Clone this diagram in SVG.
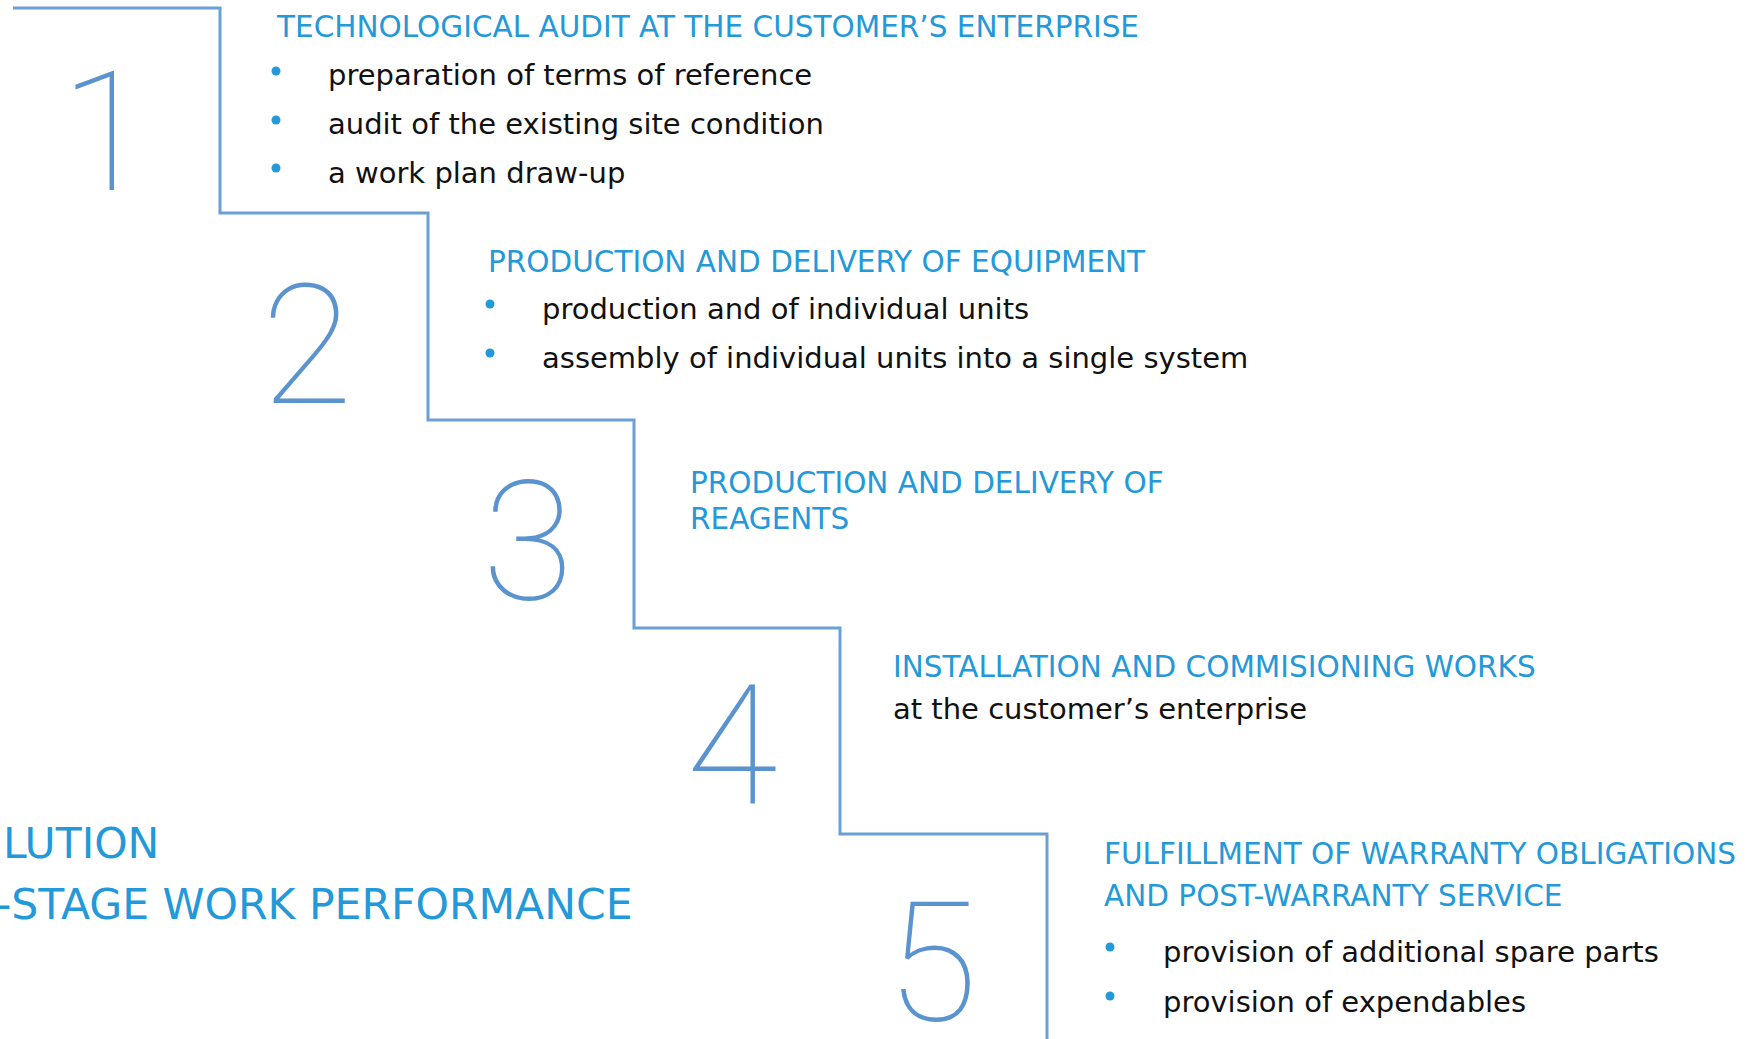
<svg xmlns="http://www.w3.org/2000/svg" width="1757" height="1039" viewBox="0 0 1757 1039">
<style>
.title{font-family:"DejaVu Sans","Liberation Sans",sans-serif;font-size:29.5px;fill:#2399da}
.body{font-family:"DejaVu Sans","Liberation Sans",sans-serif;font-size:29px;fill:#111}
.big{font-family:"DejaVu Sans","Liberation Sans",sans-serif;font-size:42.5px;fill:#2399da}
.digit{font-family:Roboto,"Inter",sans-serif;font-weight:100;font-size:167px;fill:#5b93cf;text-anchor:middle}
.dot{fill:#2399da}
</style>
<rect width="1757" height="1039" fill="#fff"/>
<g id="connectors">
<path d="M13,8 H220 V213 H428 V420 H634 V628 H840 V834 H1047 V1039" fill="none" stroke="#6b9fd6" stroke-width="3"/>
</g>
<g id="step1">
<text class="digit" x="106" y="190">1</text>
<text class="title" x="277" y="37">TECHNOLOGICAL AUDIT AT THE CUSTOMER’S ENTERPRISE</text>
<circle class="dot" cx="276" cy="71" r="4.5"/>
<circle class="dot" cx="276" cy="120" r="4.5"/>
<circle class="dot" cx="276" cy="168" r="4.5"/>
<text class="body" x="328" y="85">preparation of terms of reference</text>
<text class="body" x="328" y="134">audit of the existing site condition</text>
<text class="body" x="328" y="183">a work plan draw-up</text>
</g>
<g id="step2">
<text class="digit" x="307" y="403">2</text>
<text class="title" x="488" y="272">PRODUCTION AND DELIVERY OF EQUIPMENT</text>
<circle class="dot" cx="490" cy="304" r="4.5"/>
<circle class="dot" cx="490" cy="353" r="4.5"/>
<text class="body" x="542" y="319">production and of individual units</text>
<text class="body" x="542" y="368">assembly of individual units into a single system</text>
</g>
<g id="step3">
<text class="digit" x="528" y="599">3</text>
<text class="title" x="690" y="493">PRODUCTION AND DELIVERY OF</text>
<text class="title" x="690" y="529">REAGENTS</text>
</g>
<g id="step4">
<text class="digit" x="732" y="803">4</text>
<text class="title" x="893" y="677">INSTALLATION AND COMMISIONING WORKS</text>
<text class="body" x="893" y="719">at the customer’s enterprise</text>
</g>
<g id="step5">
<text class="digit" x="932" y="1020">5</text>
<text class="title" x="1104" y="864">FULFILLMENT OF WARRANTY OBLIGATIONS</text>
<text class="title" x="1104" y="906">AND POST-WARRANTY SERVICE</text>
<circle class="dot" cx="1110" cy="947" r="4.5"/>
<circle class="dot" cx="1110" cy="996" r="4.5"/>
<text class="body" x="1163" y="962">provision of additional spare parts</text>
<text class="body" x="1163" y="1012">provision of expendables</text>
</g>
<g id="caption">
<text class="big" x="3" y="858">LUTION</text>
<text class="big" x="-4" y="919">-STAGE WORK PERFORMANCE</text>
</g>
</svg>
